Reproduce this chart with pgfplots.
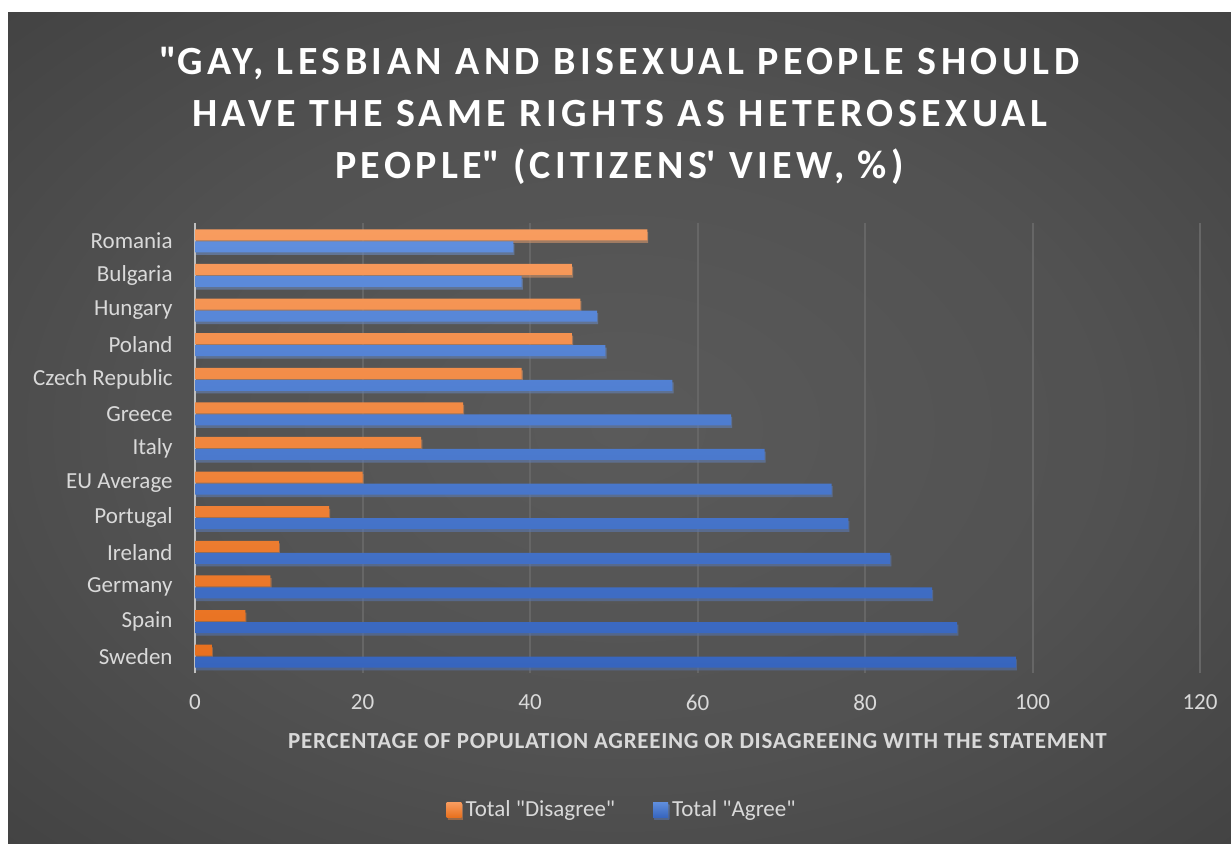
\documentclass[border=0pt]{standalone}
\usepackage{fontspec}
\setmainfont{Carlito}
\usepackage{pgfplots}
\pgfplotsset{compat=1.18}
\usetikzlibrary{shadows}
\definecolor{bgin}{HTML}{5A5A5A}
\definecolor{bgout}{HTML}{212121}
\definecolor{txt}{HTML}{D9D9D9}
\definecolor{gridc}{HTML}{666666}
\definecolor{axc}{HTML}{BFBFBF}
\definecolor{orT}{HTML}{F89C5F}
\definecolor{orB}{HTML}{E8701E}
\definecolor{blT}{HTML}{5F8EDD}
\definecolor{blB}{HTML}{3765BE}
\pgfdeclareradialshading{bgshade}{\pgfpoint{0bp}{0bp}}{color(0bp)=(bgin); color(20bp)=(bgin!85!bgout); color(72bp)=(bgout)}
\begin{document}
\begin{tikzpicture}
\fill[white] (0pt,0pt) rectangle (615.5pt,422pt);
\shade[shading=bgshade] (4pt,0pt) rectangle (615.5pt,415.5pt);
\node[align=center, text=white, font=\fontsize{20}{26}\selectfont\bfseries\addfontfeature{LetterSpace=11}] at (309.75pt,364.2pt)
 {\textquotedbl GAY, LESBIAN AND BISEXUAL PEOPLE SHOULD\\HAVE THE SAME RIGHTS AS HETEROSEXUAL\\PEOPLE\textquotedbl\ (CITIZENS\textquotesingle\ VIEW, \%)};
\begin{axis}[
 at={(97.5pt,85.25pt)}, anchor=south west,
 width=502.5pt, height=225pt, scale only axis,
 xbar, bar width=5.5pt,
 xmin=0, xmax=120, ymin=-0.5, ymax=12.5,
 xtick={0,20,...,120},
 ytick={0,...,12},
 yticklabels={Sweden,Spain,Germany,Ireland,Portugal,EU Average,Italy,Greece,Czech Republic,Poland,Hungary,Bulgaria,Romania},
 xmajorgrids, major grid style={draw=gridc, line width=1pt},
 axis lines*=left,
 x axis line style={draw=none},
 y axis line style={draw=axc, line width=1.2pt, -},
 major tick length=0pt, tick style={draw=none},
 /pgf/number format/assume math mode=true,
 ticklabel style={text=txt, font=\fontsize{11.5}{13}\selectfont},
 xticklabel style={yshift=-7.25pt},
 yticklabel style={xshift=-7.7pt},
 xlabel={PERCENTAGE OF POPULATION AGREEING OR DISAGREEING WITH THE STATEMENT},
 every axis x label/.style={at={(axis description cs:0.5,0)}, anchor=center, yshift=-33.75pt, text=txt, font=\fontsize{11.5}{13}\selectfont\bfseries\addfontfeature{LetterSpace=3}},
 legend style={at={(axis description cs:0.426,-0.303)}, anchor=center, draw=none, fill=none, text=txt, font=\fontsize{11.5}{13}\selectfont, legend columns=2, /tikz/every even column/.append style={column sep=17pt}, inner sep=0pt},
 legend image code/.code={\fill[#1] (0pt,-3.75pt) rectangle (7.5pt,3.75pt);},
 clip=false,
]
\addplot[draw=none, top color=orT, bottom color=orB, bar shift=3pt, drop shadow={shadow xshift=0.6pt, shadow yshift=-1.3pt, opacity=0.4}] coordinates {
(2,0) (6,1) (9,2) (10,3) (16,4) (20,5) (27,6) (32,7) (39,8) (45,9) (46,10) (45,11) (54,12)};
\addlegendentry{Total \textquotedbl Disagree\textquotedbl}
\addplot[draw=none, top color=blT, bottom color=blB, bar shift=-3pt, drop shadow={shadow xshift=0.6pt, shadow yshift=-1.3pt, opacity=0.4}] coordinates {
(98,0) (91,1) (88,2) (83,3) (78,4) (76,5) (68,6) (64,7) (57,8) (49,9) (48,10) (39,11) (38,12)};
\addlegendentry{Total \textquotedbl Agree\textquotedbl}
\end{axis}
\end{tikzpicture}
\end{document}
